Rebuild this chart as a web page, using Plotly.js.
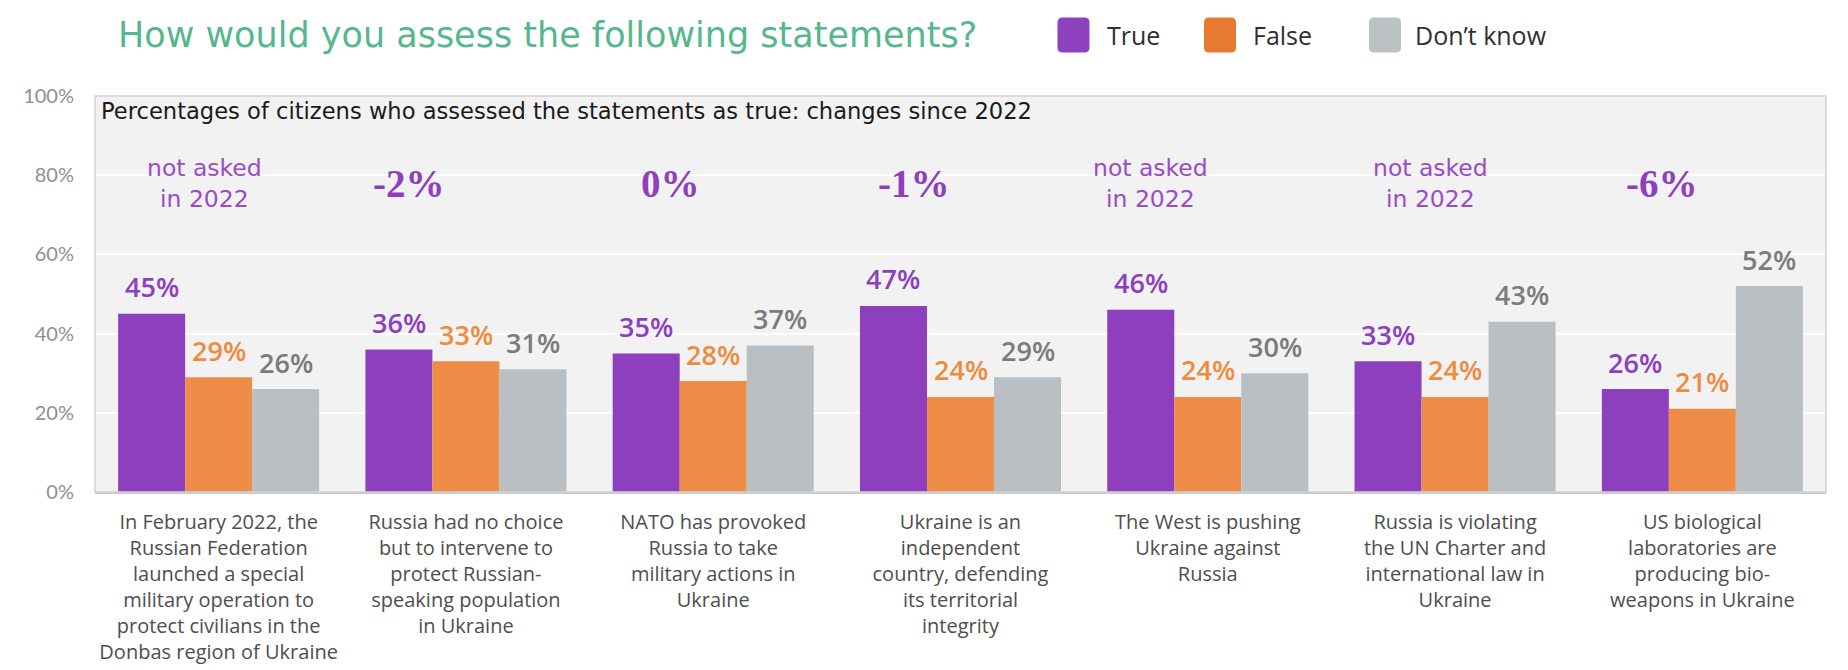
<!DOCTYPE html>
<html>
<head>
<meta charset="utf-8">
<script src="https://cdn.plot.ly/plotly-3.0.1.min.js"></script>
<style>
  html, body { margin: 0; padding: 0; background: #ffffff; }
  #chart { width: 1848px; height: 670px; }
</style>
</head>
<body>
<div id="chart"></div>
<script>
// ---------------- DATA ----------------
const categories = [
  "In February 2022, the<br>Russian Federation<br>launched a special<br>military operation to<br>protect civilians in the<br>Donbas region of Ukraine",
  "Russia had no choice<br>but to intervene to<br>protect Russian-<br>speaking population<br>in Ukraine",
  "NATO has provoked<br>Russia to take<br>military actions in<br>Ukraine",
  "Ukraine is an<br>independent<br>country, defending<br>its territorial<br>integrity",
  "The West is pushing<br>Ukraine against<br>Russia",
  "Russia is violating<br>the UN Charter and<br>international law in<br>Ukraine",
  "US biological<br>laboratories are<br>producing bio-<br>weapons in Ukraine"
];
const seriesNames = ["True", "False", "Don\u2019t know"];
const trueValues = [45, 36, 35, 47, 46, 33, 26];
const falseValues = [29, 33, 28, 24, 24, 24, 21];
const dontKnowValues = [26, 31, 37, 29, 30, 43, 52];
const changeLabels = ["not asked<br>in 2022", "-2%", "0%", "-1%", "not asked<br>in 2022", "not asked<br>in 2022", "-6%"];
const yTickValues = [0, 20, 40, 60, 80, 100];

const titleText = "How would you assess the following statements?";
const subtitleText = "Percentages of citizens who assessed the statements as true: changes since 2022";

// ---------------- STYLE / LAYOUT CONSTANTS ----------------
const barColors = ["#8e3fbd", "#ef8c48", "#b9bfc3"];
const labelColors = ["#8b40bf", "#f08a3e", "#7b7b7b"];
const legendColors = ["#8e42bf", "#e67a33", "#bcc1c4"];
const bargap = 0.187;
const changeY = 78;                       // vertical placement of the "change" notes (axis units)
const changeShift = [-14, -57, -43, -47, -57, -25, -40]; // px offsets of change notes
const W = 1848, H = 670;
const M = {l: 95, r: 22, t: 96, b: 178};
const plotW = W - M.l - M.r, plotH = H - M.t - M.b;
const px2x = p => (p - M.l) / plotW;
const px2y = p => (H - M.b - p) / plotH;

const series = [trueValues, falseValues, dontKnowValues];
const idx = categories.map((_, i) => i);

const traces = series.map((vals, k) => ({
  type: "bar",
  name: seriesNames[k],
  x: idx,
  y: vals,
  marker: {color: barColors[k], line: {width: 0}},
  hoverinfo: "y+name",
  showlegend: false
}));

const annotations = [];
const barW = (1 - bargap) / 3;
// value labels above each bar
series.forEach((vals, k) => {
  vals.forEach((v, i) => {
    annotations.push({
      xref: "x", yref: "y",
      x: i + (k - 1) * barW, y: v,
      text: v + "%",
      showarrow: false,
      xanchor: "center", yanchor: "middle",
      yshift: 27,
      font: {family: "Open Sans, Lato, sans-serif", size: 27, weight: 600, color: labelColors[k]}
    });
  });
});
// change since 2022 notes
changeLabels.forEach((t, i) => {
  const isNote = t.indexOf("<br>") >= 0;
  annotations.push({
    xref: "x", yref: "y", x: i, y: changeY,
    text: t, showarrow: false,
    xanchor: "center", yanchor: "middle",
    xshift: changeShift[i],
    font: isNote
      ? {family: "DejaVu Sans, sans-serif", size: 23.5, color: "#9a4cc6"}
      : {family: "Liberation Serif, serif", size: 39, weight: 700, color: "#8e3fbd"}
  });
});
// subtitle inside plot
annotations.push({
  xref: "paper", yref: "paper",
  x: px2x(99), y: px2y(111),
  text: subtitleText, showarrow: false,
  xanchor: "left", yanchor: "middle",
  font: {family: "DejaVu Sans, sans-serif", size: 22.6, color: "#1a1a1a"}
});

// custom legend (rounded swatches + labels)
const legendSwatchX = [1073.5, 1220, 1385];
const legendTextX = [1105, 1251, 1413];
const legendY = 35;
const shapes = [];
const rr = (w, h, r) => {
  const x0 = -w / 2, x1 = w / 2, y0 = -h / 2, y1 = h / 2;
  return `M${x0 + r},${y0} L${x1 - r},${y0} Q${x1},${y0} ${x1},${y0 + r} L${x1},${y1 - r} Q${x1},${y1} ${x1 - r},${y1} L${x0 + r},${y1} Q${x0},${y1} ${x0},${y1 - r} L${x0},${y0 + r} Q${x0},${y0} ${x0 + r},${y0} Z`;
};
seriesNames.forEach((n, k) => {
  shapes.push({
    type: "path", xref: "paper", yref: "paper",
    xsizemode: "pixel", ysizemode: "pixel",
    xanchor: px2x(legendSwatchX[k]), yanchor: px2y(legendY),
    path: rr(32, 35, 5),
    fillcolor: legendColors[k], line: {width: 0}
  });
  annotations.push({
    xref: "paper", yref: "paper",
    x: px2x(legendTextX[k]), y: px2y(legendY),
    text: n, showarrow: false,
    xanchor: "left", yanchor: "middle",
    font: {family: "Open Sans, sans-serif", size: 25, color: "#2f2f2f"}
  });
});
// plot-area frame
shapes.push({
  type: "rect", xref: "paper", yref: "paper",
  x0: 0, x1: 1, y0: 0, y1: 1,
  line: {color: "#d2d2d2", width: 1.5}, layer: "above"
});

const layout = {
  width: W, height: H,
  margin: M,
  paper_bgcolor: "#ffffff",
  plot_bgcolor: "#f2f2f2",
  barmode: "group",
  bargap: bargap,
  bargroupgap: 0,
  showlegend: false,
  title: {
    text: titleText,
    x: 118 / W, xref: "container", xanchor: "left",
    y: 1 - 35 / H, yref: "container", yanchor: "middle",
    font: {family: "DejaVu Sans, sans-serif", size: 35, color: "#55b78b"}
  },
  xaxis: {
    type: "linear",
    range: [-0.5, categories.length - 0.5],
    tickvals: idx,
    ticktext: categories,
    showgrid: false, zeroline: false,
    showline: true, linecolor: "#c8c8c8", linewidth: 1.5,
    ticks: "", ticklabelstandoff: 11,
    tickfont: {family: "Open Sans, sans-serif", size: 20, color: "#4e4e4e"},
    fixedrange: true
  },
  yaxis: {
    range: [0, 100],
    tickvals: yTickValues,
    ticktext: yTickValues.map(v => v + "%"),
    showgrid: true, gridcolor: "#ffffff", gridwidth: 2,
    zeroline: false, showline: false,
    ticks: "", ticklabelstandoff: 20,
    tickfont: {family: "Lato, sans-serif", size: 20, color: "#8f8f8f"},
    fixedrange: true
  },
  annotations: annotations,
  shapes: shapes
};

Plotly.newPlot("chart", traces, layout, {displayModeBar: false, staticPlot: true});
</script>
</body>
</html>
